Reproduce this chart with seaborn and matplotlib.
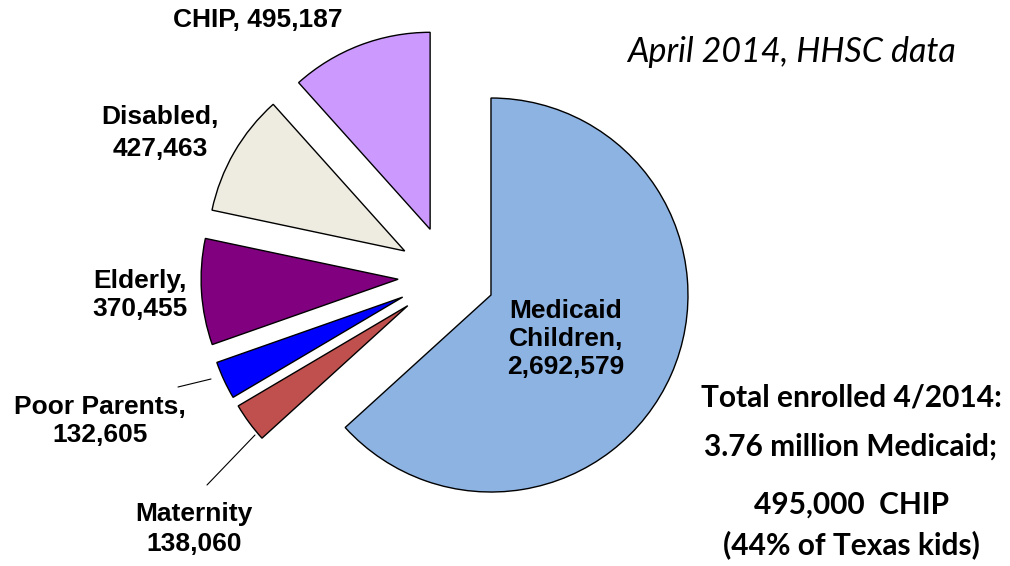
import matplotlib
matplotlib.use("Agg")
import matplotlib.pyplot as plt
import seaborn as sns

# Texas Medicaid / CHIP enrollment, April 2014
groups = ["Medicaid Children", "Maternity", "Poor Parents", "Elderly", "Disabled", "CHIP"]
enrolled = [2692579, 138060, 132605, 370455, 427463, 495187]
slice_colors = ["#8DB3E2", "#C0504D", "#0000FF", "#800080", "#EEECE1", "#CC99FF"]
label_texts = ["Medicaid\nChildren,\n2,692,579", "Maternity\n138,060", "Poor Parents,\n132,605",
               "Elderly,\n370,455", "Disabled,\n427,463", "CHIP, 495,187"]
note_lines = ["Total enrolled 4/2014:", "3.76 million Medicaid;", "495,000  CHIP", "(44% of Texas kids)"]

sns.set_theme(style="white")
plt.rcParams["font.family"] = ["Liberation Sans", "DejaVu Sans"]
plt.rcParams["text.color"] = "black"

W, H = 1010, 566
fig = plt.figure(figsize=(W / 100, H / 100), dpi=100)
ax = fig.add_axes([0, 0, 1, 1])

def Y(y):
    # picture rows run downward
    return H - y

explode = [47, 50, 50, 50, 50, 50]
ax.pie(enrolled, colors=slice_colors, explode=explode, startangle=90, counterclock=False,
       radius=197, center=(448, Y(276)),
       wedgeprops=dict(edgecolor="black", linewidth=1.0))
ax.set_xlim(0, W)
ax.set_ylim(0, H)
ax.set_aspect("equal")
ax.axis("off")

# slice labels
label_pos = [(566, 339), (194, 529), (100, 421), (140, 295), (160, 133), (258, 20)]
spacing = [1.2, 1.35, 1.2, 1.2, 1.45, 1.0]
for txt, (x, y), ls in zip(label_texts, label_pos, spacing):
    ax.text(x, Y(y), txt, ha="center", va="center", fontsize=19, fontweight="bold",
            linespacing=ls, color="black")

# leader lines
ax.plot([178, 211], [Y(387), Y(379)], color="black", lw=0.8)
ax.plot([207, 255], [Y(485), Y(435)], color="black", lw=0.8)

ax.text(791, Y(52), "April 2014, HHSC data", ha="center", va="center",
        fontsize=24.5, style="italic", color="black", family=["Lato", "DejaVu Sans"])

note_y = [397, 447, 505, 545]
for txt, y in zip(note_lines, note_y):
    ax.text(851, Y(y), txt, ha="center", va="center", fontsize=21.5,
            fontweight="bold", color="black", family=["Lato", "DejaVu Sans"])

fig.savefig("out.png", dpi=100)
